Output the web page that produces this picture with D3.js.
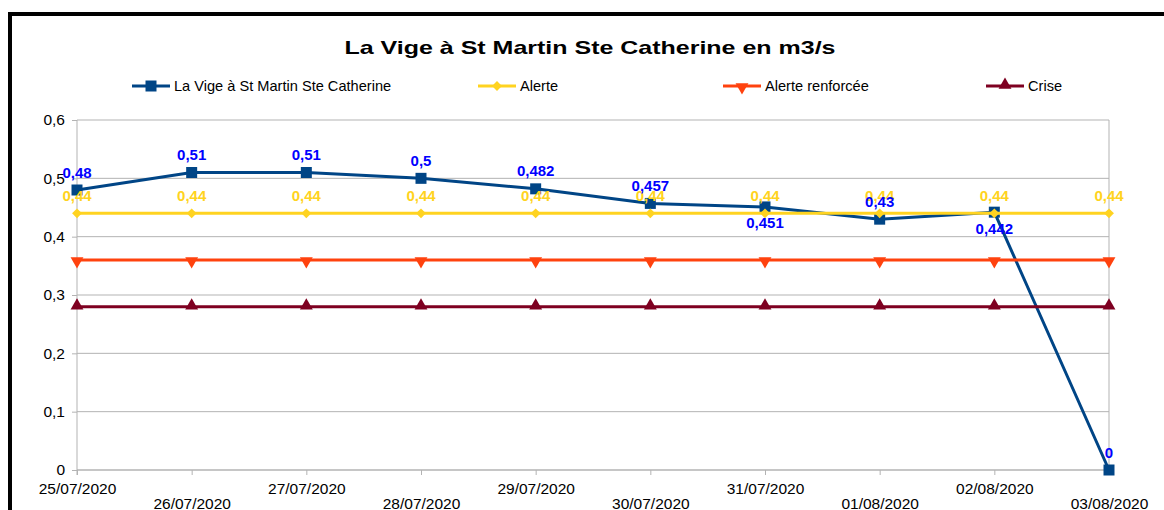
<!DOCTYPE html>
<html>
<head>
<meta charset="utf-8">
<title>La Vige</title>
<script src="https://d3js.org/d3.v7.min.js"></script>
<style>
body { margin: 0; background: #fff; font-family: 'Liberation Sans', Arial, sans-serif; }
svg { display: block; }
</style>
</head>
<body>
<svg id="chart" width="1164" height="510"></svg>
<script>
// data
var dates = ["25/07/2020","26/07/2020","27/07/2020","28/07/2020","29/07/2020",
             "30/07/2020","31/07/2020","01/08/2020","02/08/2020","03/08/2020"];
var debit = [0.48, 0.51, 0.51, 0.5, 0.482, 0.457, 0.451, 0.43, 0.442, 0];
var alerte = [0.44, 0.44, 0.44, 0.44, 0.44, 0.44, 0.44, 0.44, 0.44, 0.44];
var alerteRenforcee = [0.36, 0.36, 0.36, 0.36, 0.36, 0.36, 0.36, 0.36, 0.36, 0.36];
var crise = [0.28, 0.28, 0.28, 0.28, 0.28, 0.28, 0.28, 0.28, 0.28, 0.28];
var yTicks = [0, 0.1, 0.2, 0.3, 0.4, 0.5, 0.6];
var seriesNames = ["La Vige à St Martin Ste Catherine", "Alerte", "Alerte renforcée", "Crise"];
// where the blue labels sit (auto placement in the original)
var debitLabelSide = ["up","up","up","up","up","up","down","up","down","up"];

var svg = d3.select("#chart");
var pLeft = 77, pRight = 1109, pTop = 120, pBottom = 470;

var fr = d3.formatLocale({decimal: ",", thousands: " ", grouping: [3], currency: ["", "€"]});
var fmt = function(v){ return fr.format("~g")(v); };

var x = d3.scalePoint().domain(dates).range([pLeft, pRight]).padding(0);
var y = d3.scaleLinear().domain([0, 0.6]).range([pBottom, pTop]);

// frame
svg.append("rect").attr("x", 10).attr("y", 14).attr("width", 1200).attr("height", 600)
  .attr("fill", "none").attr("stroke", "#000").attr("stroke-width", 4);

// title
svg.append("text").attr("x", 590).attr("y", 54).attr("text-anchor", "middle")
  .attr("font-size", 19).attr("font-weight", "bold").attr("fill", "#000")
  .attr("textLength", 491).attr("lengthAdjust", "spacingAndGlyphs")
  .text("La Vige à St Martin Ste Catherine en m3/s");

// grid
svg.append("g").selectAll("line").data(yTicks).enter().append("line")
  .attr("x1", pLeft).attr("x2", pRight)
  .attr("y1", function(d){ return y(d); }).attr("y2", function(d){ return y(d); })
  .attr("stroke", "#b3b3b3").attr("stroke-width", 1);
svg.append("line").attr("x1", pRight).attr("x2", pRight).attr("y1", pTop).attr("y2", pBottom)
  .attr("stroke", "#b3b3b3");

// axes
var yAxis = svg.append("g").attr("transform", "translate(" + pLeft + ",0)")
  .call(d3.axisLeft(y).tickValues(yTicks).tickFormat(fmt).tickSize(5).tickPadding(7));
var xAxis = svg.append("g").attr("transform", "translate(0," + pBottom + ")")
  .call(d3.axisBottom(x).tickSize(5));
[yAxis, xAxis].forEach(function(a){
  a.select(".domain").attr("stroke", "#b3b3b3");
  a.selectAll(".tick line").attr("stroke", "#b3b3b3");
  a.selectAll("text").attr("font-size", 15.5).attr("fill", "#000")
    .attr("font-family", "'Liberation Sans', Arial, sans-serif");
});
yAxis.select(".domain").attr("d", "M0," + pTop + "V" + (pBottom + 5));
xAxis.select(".domain").attr("d", "M" + pLeft + ",0H" + pRight);
xAxis.selectAll(".tick text").attr("dy", 0)
  .attr("y", function(d, i){ return i % 2 ? 39 : 24; });

// markers
var sym = {
  square: d3.symbol().type(d3.symbolSquare).size(121),
  diamond: d3.symbol().type(d3.symbolDiamond2).size(62),
  triUp: d3.symbol().type(d3.symbolTriangle).size(72)
};
function marker(g, type, color, px, py){
  var p = g.append("path").attr("fill", color).attr("d", sym[type === "triDown" ? "triUp" : type]());
  var t = "translate(" + px + "," + py + ")";
  if (type === "triUp") t += " translate(0,-1)";
  if (type === "triDown") t += " rotate(180) translate(0,-1)";
  p.attr("transform", t);
}

var series = [
  {name: seriesNames[0], values: debit, color: "#004586", marker: "square"},
  {name: seriesNames[1], values: alerte, color: "#ffd320", marker: "diamond"},
  {name: seriesNames[2], values: alerteRenforcee, color: "#ff420e", marker: "triDown"},
  {name: seriesNames[3], values: crise, color: "#7e0021", marker: "triUp"}
];

var line = d3.line().x(function(d, i){ return x(dates[i]); }).y(function(d){ return y(d); });
var plot = svg.append("g");
series.forEach(function(s){
  var g = plot.append("g");
  g.append("path").datum(s.values).attr("d", line).attr("fill", "none")
    .attr("stroke", s.color).attr("stroke-width", 3).attr("stroke-linejoin", "round");
  s.values.forEach(function(v, i){ marker(g, s.marker, s.color, x(dates[i]), y(v)); });
});

// data labels
var labels = svg.append("g").attr("font-size", 15).attr("font-weight", "bold").attr("text-anchor", "middle");
labels.selectAll("text.al").data(alerte).enter().append("text").attr("class", "al")
  .attr("x", function(d, i){ return x(dates[i]); })
  .attr("y", function(d){ return y(d) - 12.5; })
  .attr("fill", "#ffd320").text(fmt);
labels.selectAll("text.deb").data(debit).enter().append("text").attr("class", "deb")
  .attr("x", function(d, i){ return x(dates[i]); })
  .attr("y", function(d, i){ return debitLabelSide[i] === "up" ? y(d) - 12.5 : y(d) + 21.5; })
  .attr("fill", "#0000ff").text(fmt);

// legend
var legX = [132, 478, 723, 986];
var leg = svg.append("g");
series.forEach(function(s, i){
  var g = leg.append("g").attr("transform", "translate(" + legX[i] + ",86)");
  g.append("line").attr("x1", 0).attr("x2", 38).attr("stroke", s.color).attr("stroke-width", 3);
  marker(g, s.marker, s.color, 19, 0);
  g.append("text").attr("x", 42).attr("y", 5).attr("font-size", 14.6).attr("fill", "#000").text(s.name);
});
</script>
</body>
</html>
